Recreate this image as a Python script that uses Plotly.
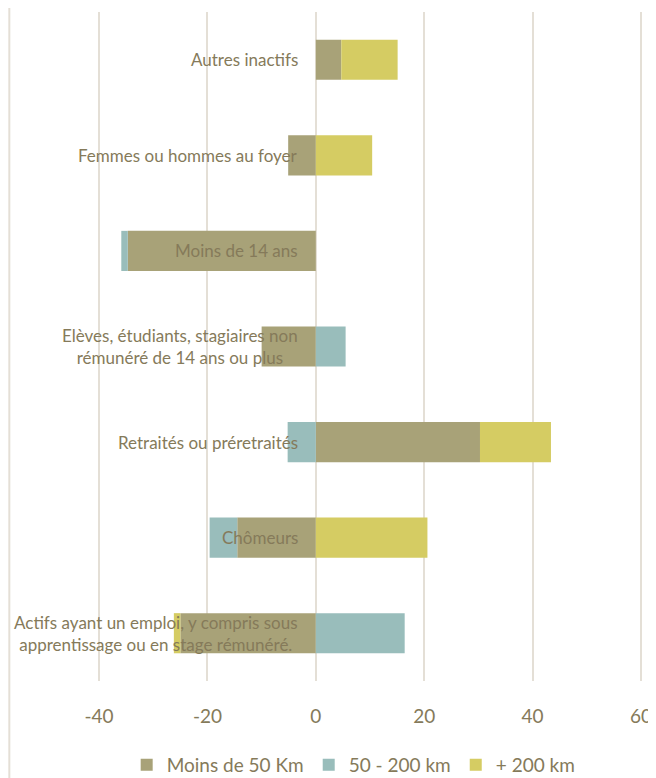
import plotly.graph_objects as go

categories = [
    "Actifs ayant un emploi, y compris sous<br>apprentissage ou en stage rémunéré.",
    "Chômeurs",
    "Retraités ou préretraités",
    "Elèves, étudiants, stagiaires non<br>rémunéré de 14 ans ou plus",
    "Moins de 14 ans",
    "Femmes ou hommes au foyer",
    "Autres inactifs",
]
moins_50 = [-25.0, -14.5, 30.3, -10.0, -34.7, -5.1, 4.7]
km_50_200 = [16.4, -5.1, -5.2, 5.5, -1.2, 0, 0]
plus_200 = [-1.2, 20.6, 13.1, 0, 0, 10.4, 10.4]

tick_vals = [-40, -20, 0, 20, 40, 60]
tick_text = ["-40", "-20", "0", "20", "40", "60"]

series_names = ["Moins de 50 Km", "50 - 200 km", "+ 200 km"]
colors = ["#a8a278", "#99bdbb", "#d5cc63"]
txt = "#857a5a"
grid = "#e4dfd6"

fig = go.Figure()
for name, vals, col in zip(series_names, [moins_50, km_50_200, plus_200], colors):
    fig.add_trace(go.Bar(y=categories, x=vals, name=name, orientation="h",
                         marker=dict(color=col, line=dict(width=0))))

# category labels sit just left of the zero line, like the original
for c in categories:
    fig.add_annotation(x=0, y=c, text=c, showarrow=False, xanchor="right",
                       xshift=-16, align="center",
                       font=dict(family="Lato", size=17, color=txt))

fig.add_shape(type="line", xref="paper", yref="paper", x0=-0.163, x1=-0.163,
              y0=-0.2, y1=1.02, line=dict(color=grid, width=2))

# page body has an 8px margin, so the figure is 8px smaller than the window
fig.update_layout(
    width=648, height=770,
    barmode="relative", bargap=0.58,
    plot_bgcolor="white", paper_bgcolor="white",
    margin=dict(l=90, r=12, t=4, b=97),
    font=dict(family="Lato", color=txt),
    xaxis=dict(range=[-40.2, 60.2], tickvals=tick_vals, ticktext=tick_text,
               showgrid=True, gridcolor=grid,
               gridwidth=2, zeroline=True, zerolinecolor=grid, zerolinewidth=2,
               tickfont=dict(size=19, color=txt), ticklabelstandoff=22,
               showline=False, fixedrange=True),
    yaxis=dict(showticklabels=False, showgrid=False, zeroline=False,
               categoryorder="array", categoryarray=categories),
    legend=dict(orientation="h", x=0.47, xanchor="center",
                yref="container", y=0.017, yanchor="middle",
                font=dict(size=19, color=txt), traceorder="normal"),
)

fig.write_html("out.html")
